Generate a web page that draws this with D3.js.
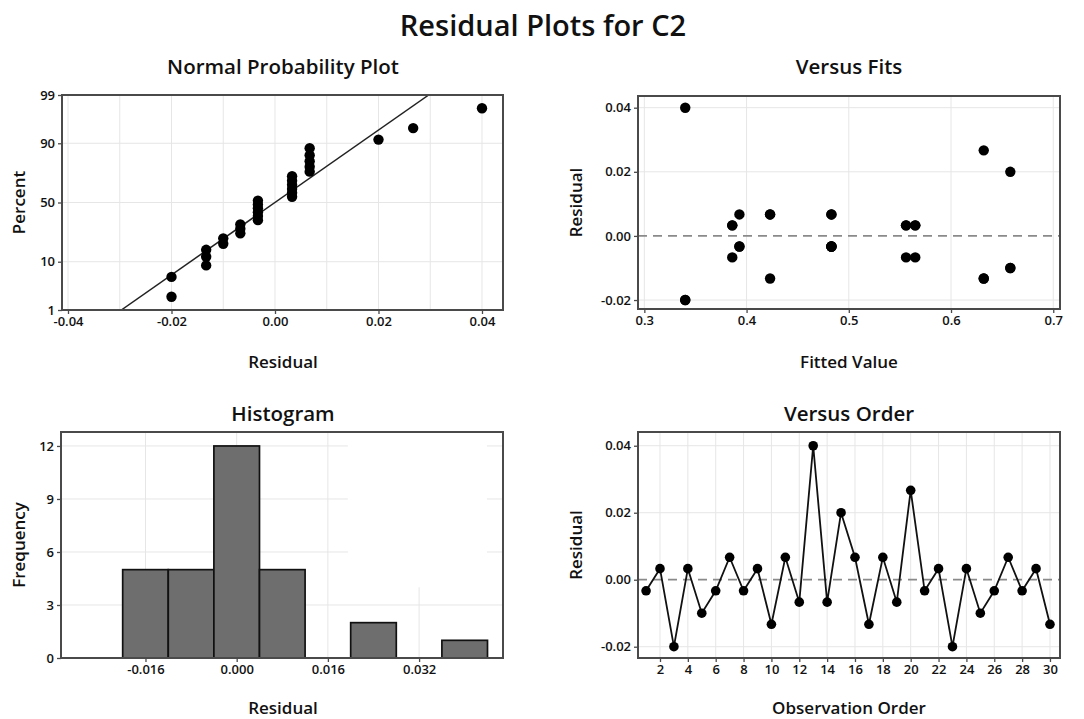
<!DOCTYPE html>
<html>
<head>
<meta charset="utf-8">
<script src="https://cdn.jsdelivr.net/npm/d3@7"></script>
<style>
  body { margin: 0; background: #fff; }
  text { font-family: "Open Sans", sans-serif; font-weight: 600; fill: #111; }
</style>
</head>
<body>
<svg id="chart" width="1084" height="719"></svg>
<script>
// residuals in observation order
const obsOrder = [1,2,3,4,5,6,7,8,9,10,11,12,13,14,15,16,17,18,19,20,21,22,23,24,25,26,27,28,29,30];
const residuals = [-0.0033, 0.0033, -0.02, 0.0033, -0.01, -0.0033, 0.0067, -0.0033, 0.0033, -0.0133,
                   0.0067, -0.0067, 0.04, -0.0067, 0.02, 0.0067, -0.0133, 0.0067, -0.0067, 0.0267,
                   -0.0033, 0.0033, -0.02, 0.0033, -0.01, -0.0033, 0.0067, -0.0033, 0.0033, -0.0133];

// versus fits
const fitValues = [0.340,0.340,0.340, 0.386,0.386,0.386, 0.393,0.393,0.393, 0.423,0.423,0.423,
                   0.483,0.483,0.483, 0.483,0.483,0.483, 0.556,0.556,0.556, 0.565,0.565,0.565,
                   0.632,0.632,0.632, 0.658,0.658,0.658];
const fitResiduals = [0.04,-0.02,-0.02, 0.0033,0.0033,-0.0067, 0.0067,-0.0033,-0.0033, 0.0067,0.0067,-0.0133,
                      0.0067,-0.0033,-0.0033, 0.0067,-0.0033,-0.0033, 0.0033,0.0033,-0.0067, 0.0033,0.0033,-0.0067,
                      0.0267,-0.0133,-0.0133, 0.02,-0.01,-0.01];

// normal probability plot positions (percent) for the sorted residuals
const plotPercents = [2.07, 5.37, 8.68, 11.98, 15.29, 18.60, 21.90, 25.21, 28.51, 31.82,
                      35.12, 38.43, 41.74, 45.04, 48.35, 51.65, 54.96, 58.26, 61.57, 64.88,
                      68.18, 71.49, 74.79, 78.10, 81.40, 84.71, 88.02, 91.32, 94.63, 97.93];
const percentTicks = [1, 10, 50, 90, 99];
const fitLinePercents = [1, 99];
const fitLineResiduals = [-0.0297, 0.0297];

// histogram
const histCenters = [-0.024, -0.016, -0.008, 0, 0.008, 0.016, 0.024, 0.032, 0.040];
const histCounts = [0, 5, 5, 12, 5, 0, 2, 0, 1];
const binWidth = 0.008;

const svg = d3.select("#chart");

// inverse normal cdf (Acklam)
function probit(p) {
  const a = [-3.969683028665376e+01, 2.209460984245205e+02, -2.759285104469687e+02, 1.383577518672690e+02, -3.066479806614716e+01, 2.506628277459239e+00];
  const b = [-5.447609879822406e+01, 1.615858368580409e+02, -1.556989798598866e+02, 6.680131188771972e+01, -1.328068155288572e+01];
  const c = [-7.784894002430293e-03, -3.223964580411365e-01, -2.400758277161838e+00, -2.549732539343734e+00, 4.374664141464968e+00, 2.938163982698783e+00];
  const d = [7.784695709041462e-03, 3.224671290700398e-01, 2.445134137142996e+00, 3.754408661907416e+00];
  const pl = 0.02425;
  let q, r;
  if (p < pl) {
    q = Math.sqrt(-2 * Math.log(p));
    return (((((c[0]*q+c[1])*q+c[2])*q+c[3])*q+c[4])*q+c[5]) / ((((d[0]*q+d[1])*q+d[2])*q+d[3])*q+1);
  }
  if (p > 1 - pl) {
    q = Math.sqrt(-2 * Math.log(1 - p));
    return -(((((c[0]*q+c[1])*q+c[2])*q+c[3])*q+c[4])*q+c[5]) / ((((d[0]*q+d[1])*q+d[2])*q+d[3])*q+1);
  }
  q = p - 0.5; r = q * q;
  return (((((a[0]*r+a[1])*r+a[2])*r+a[3])*r+a[4])*r+a[5])*q / (((((b[0]*r+b[1])*r+b[2])*r+b[3])*r+b[4])*r+1);
}

const gridColor = "#e6e6e6";
const frameColor = "#4a4a4a";

function styleAxis(g) {
  g.select(".domain").remove();
  g.selectAll(".tick line").attr("stroke", frameColor).attr("stroke-width", 1.3);
  g.selectAll(".tick text").style("font-size", "13px").attr("fill", "#111");
}

function frame(x0, x1, y0, y1) {
  svg.append("rect")
    .attr("x", x0).attr("y", y0)
    .attr("width", x1 - x0).attr("height", y1 - y0)
    .attr("fill", "none")
    .attr("stroke", frameColor)
    .attr("stroke-width", 2);
}

function titles(cx, top, bottom, leftX, title, xLabel, yLabel, titleY, xLabelY) {
  svg.append("text").attr("x", cx).attr("y", titleY)
    .attr("text-anchor", "middle").style("font-size", "20.5px").text(title);
  svg.append("text").attr("x", cx).attr("y", xLabelY)
    .attr("text-anchor", "middle").style("font-size", "17px").text(xLabel);
  svg.append("text")
    .attr("transform", `translate(${leftX}, ${(top + bottom) / 2}) rotate(-90)`)
    .attr("text-anchor", "middle").style("font-size", "17px").text(yLabel);
}

// main title
svg.append("text").attr("x", 543).attr("y", 36)
  .attr("text-anchor", "middle").style("font-size", "29px")
  .text("Residual Plots for C2");

const fmt2 = d => d.toFixed(2);

// ---------- Normal Probability Plot ----------
{
  const L = 62, R = 503, T = 95, B = 310;
  const x = d3.scaleLinear().domain([-0.04116, 0.04406]).range([L, R]);
  const z = d3.scaleLinear().domain([probit(0.01), probit(0.99)]).range([B, T]);
  const y = p => z(probit(p / 100));

  svg.append("g").selectAll("line")
    .data(d3.range(-0.04, 0.0401, 0.01))
    .join("line")
    .attr("x1", d => x(d)).attr("x2", d => x(d))
    .attr("y1", T).attr("y2", B)
    .attr("stroke", gridColor);
  svg.append("g").selectAll("line")
    .data([10, 50, 90])
    .join("line")
    .attr("x1", L).attr("x2", R)
    .attr("y1", d => y(d)).attr("y2", d => y(d))
    .attr("stroke", gridColor);

  svg.append("defs").append("clipPath").attr("id", "clipNorm")
    .append("rect").attr("x", L).attr("y", T).attr("width", R - L).attr("height", B - T);

  svg.append("line")
    .attr("clip-path", "url(#clipNorm)")
    .attr("x1", x(fitLineResiduals[0])).attr("y1", y(fitLinePercents[0]))
    .attr("x2", x(fitLineResiduals[1])).attr("y2", y(fitLinePercents[1]))
    .attr("stroke", "#222").attr("stroke-width", 1.5);

  const sorted = d3.sort(residuals);
  svg.append("g").selectAll("circle")
    .data(sorted)
    .join("circle")
    .attr("cx", d => x(d))
    .attr("cy", (d, i) => y(plotPercents[i]))
    .attr("r", 5.2)
    .attr("fill", "#000");

  svg.append("g").attr("transform", `translate(0, ${B})`)
    .call(d3.axisBottom(x).tickValues([-0.04, -0.02, 0, 0.02, 0.04]).tickFormat(fmt2).tickSize(4).tickPadding(3))
    .call(styleAxis);
  svg.append("g").attr("transform", `translate(${L}, 0)`)
    .call(d3.axisLeft(z).tickValues(percentTicks.map(p => probit(p / 100)))
      .tickFormat((d, i) => percentTicks[i]).tickSize(4).tickPadding(3))
    .call(styleAxis);

  frame(L, R, T, B);
  titles(283, T, B, 25, "Normal Probability Plot", "Residual", "Percent", 74, 368);
}

// ---------- Versus Fits ----------
{
  const L = 638, R = 1060, T = 96, B = 309;
  const x = d3.scaleLinear().domain([0.2938, 0.7066]).range([L, R]);
  const y = d3.scaleLinear().domain([-0.0228, 0.04365]).range([B, T]);

  svg.append("g").selectAll("line")
    .data([0.3, 0.4, 0.5, 0.6, 0.7])
    .join("line")
    .attr("x1", d => x(d)).attr("x2", d => x(d))
    .attr("y1", T).attr("y2", B)
    .attr("stroke", gridColor);
  svg.append("g").selectAll("line")
    .data([-0.02, 0.02, 0.04])
    .join("line")
    .attr("x1", L).attr("x2", R)
    .attr("y1", d => y(d)).attr("y2", d => y(d))
    .attr("stroke", gridColor);

  svg.append("line")
    .attr("x1", L).attr("x2", R).attr("y1", y(0)).attr("y2", y(0))
    .attr("stroke", "#8a8a8a").attr("stroke-width", 1.8).attr("stroke-dasharray", "9,6");

  svg.append("g").selectAll("circle")
    .data(fitValues)
    .join("circle")
    .attr("cx", d => x(d))
    .attr("cy", (d, i) => y(fitResiduals[i]))
    .attr("r", 5.2)
    .attr("fill", "#000");

  svg.append("g").attr("transform", `translate(0, ${B})`)
    .call(d3.axisBottom(x).tickValues([0.3, 0.4, 0.5, 0.6, 0.7]).tickFormat(d => d.toFixed(1)).tickSize(4).tickPadding(3))
    .call(styleAxis);
  svg.append("g").attr("transform", `translate(${L}, 0)`)
    .call(d3.axisLeft(y).tickValues([-0.02, 0, 0.02, 0.04]).tickFormat(fmt2).tickSize(4).tickPadding(3))
    .call(styleAxis);

  frame(L, R, T, B);
  titles(849, T, B, 582, "Versus Fits", "Fitted Value", "Residual", 74, 368);
}

// ---------- Histogram ----------
{
  const L = 61, R = 503, T = 432, B = 658;
  const x = d3.scaleLinear().domain([-0.03082, 0.04672]).range([L, R]);
  const y = d3.scaleLinear().domain([0, 12.79]).range([B, T]);

  svg.append("g").selectAll("line")
    .data([-0.016, 0, 0.016, 0.032])
    .join("line")
    .attr("x1", d => x(d)).attr("x2", d => x(d))
    .attr("y1", T).attr("y2", B)
    .attr("stroke", gridColor);
  svg.append("g").selectAll("line")
    .data([3, 6, 9, 12])
    .join("line")
    .attr("x1", L).attr("x2", R)
    .attr("y1", d => y(d)).attr("y2", d => y(d))
    .attr("stroke", gridColor);

  // blank patch where the legend box was removed
  svg.append("rect")
    .attr("x", x(0.0195)).attr("y", T + 1)
    .attr("width", x(0.0439) - x(0.0195)).attr("height", y(4.0) - T - 1)
    .attr("fill", "#fff");

  svg.append("g").selectAll("rect")
    .data(histCenters)
    .join("rect")
    .attr("x", d => x(d - binWidth / 2))
    .attr("width", x(binWidth) - x(0))
    .attr("y", (d, i) => y(histCounts[i]))
    .attr("height", (d, i) => B - y(histCounts[i]))
    .attr("fill", "#6e6e6e")
    .attr("stroke", "#111")
    .attr("stroke-width", 1.7);

  svg.append("g").attr("transform", `translate(0, ${B})`)
    .call(d3.axisBottom(x).tickValues([-0.016, 0, 0.016, 0.032]).tickFormat(d => d.toFixed(3)).tickSize(4).tickPadding(3))
    .call(styleAxis);
  svg.append("g").attr("transform", `translate(${L}, 0)`)
    .call(d3.axisLeft(y).tickValues([0, 3, 6, 9, 12]).tickSize(4).tickPadding(3))
    .call(styleAxis);

  frame(L, R, T, B);
  titles(283, T, B, 25, "Histogram", "Residual", "Frequency", 421, 714);
}

// ---------- Versus Order ----------
{
  const L = 638, R = 1060, T = 432, B = 658;
  const x = d3.scaleLinear().domain([0.421, 30.72]).range([L, R]);
  const y = d3.scaleLinear().domain([-0.02337, 0.0441]).range([B, T]);
  const evenTicks = obsOrder.filter(d => d % 2 === 0);

  svg.append("g").selectAll("line")
    .data(evenTicks)
    .join("line")
    .attr("x1", d => x(d)).attr("x2", d => x(d))
    .attr("y1", T).attr("y2", B)
    .attr("stroke", gridColor);
  svg.append("g").selectAll("line")
    .data([-0.02, 0.02, 0.04])
    .join("line")
    .attr("x1", L).attr("x2", R)
    .attr("y1", d => y(d)).attr("y2", d => y(d))
    .attr("stroke", gridColor);

  svg.append("line")
    .attr("x1", L).attr("x2", R).attr("y1", y(0)).attr("y2", y(0))
    .attr("stroke", "#8a8a8a").attr("stroke-width", 1.8).attr("stroke-dasharray", "9,6");

  const line = d3.line()
    .x(d => x(d))
    .y((d, i) => y(residuals[i]));
  svg.append("path")
    .datum(obsOrder)
    .attr("d", line)
    .attr("fill", "none")
    .attr("stroke", "#111")
    .attr("stroke-width", 1.8);

  svg.append("g").selectAll("circle")
    .data(obsOrder)
    .join("circle")
    .attr("cx", d => x(d))
    .attr("cy", (d, i) => y(residuals[i]))
    .attr("r", 4.8)
    .attr("fill", "#000");

  svg.append("g").attr("transform", `translate(0, ${B})`)
    .call(d3.axisBottom(x).tickValues(evenTicks).tickSize(4).tickPadding(3))
    .call(styleAxis);
  svg.append("g").attr("transform", `translate(${L}, 0)`)
    .call(d3.axisLeft(y).tickValues([-0.02, 0, 0.02, 0.04]).tickFormat(fmt2).tickSize(4).tickPadding(3))
    .call(styleAxis);

  frame(L, R, T, B);
  titles(849, T, B, 582, "Versus Order", "Observation Order", "Residual", 421, 714);
}
</script>
</body>
</html>
